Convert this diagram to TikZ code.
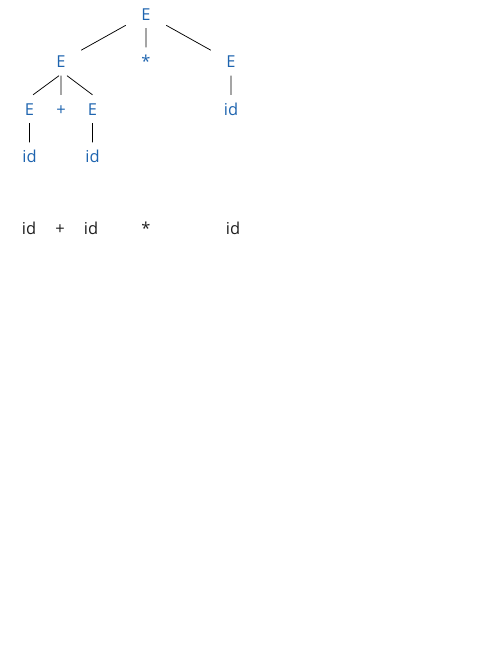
\documentclass[tikz,border=0pt]{standalone}
\usepackage{fontspec}
\setmainfont{Open Sans}
\definecolor{treeblue}{RGB}{30,100,175}
\definecolor{wordgray}{RGB}{30,30,30}

\begin{document}
\begin{tikzpicture}
	[level distance=47.5bp,
	every node/.style={text=treeblue,inner sep=0pt,text height=12bp,text depth=0pt,minimum width=40bp,minimum height=28bp,font=\fontsize{16.5}{20}\selectfont},
	edge from parent/.style={draw,line width=0.75bp},
	level 1/.style={sibling distance=85bp},
	level 2/.style={sibling distance=31.5bp,edge from parent path={(\tikzparentnode.south) -- (\tikzchildnode.north)}},
	level 3/.style={edge from parent path={(\tikzparentnode.south) -- (\tikzchildnode.north)}},
	word/.style={text=wordgray}]
	\useasboundingbox (0,0) rectangle (500bp,-647bp);
	\node (root) at (146bp,-14bp) {E}
	child {node (lE) {E}
		child [edge from parent path={(\tikzparentnode.-98) -- (\tikzchildnode.76)}] {node (llE) {E}
			child {node (llid) {id}}
		}
		child {node (lplus) {+}}
		child [edge from parent path={(\tikzparentnode.-67) -- (\tikzchildnode.north)}] {node (lrE) {E}
			child {node (lrid) {id}}
		}}
	child {node (star) {*}}
	child {node (rE) {E}
		child {node (rid) {id}}};
	% the input string
	\node (w1) [word] at (29bp,-228bp) {id};
	\node (w2) [word] at (60bp,-228bp) {+};
	\node (w3) [word] at (91bp,-228bp) {id};
	\node (w4) [word] at (146bp,-228bp) {*};
	\node (w5) [word] at (233bp,-228bp) {id};
\end{tikzpicture}
\end{document}
